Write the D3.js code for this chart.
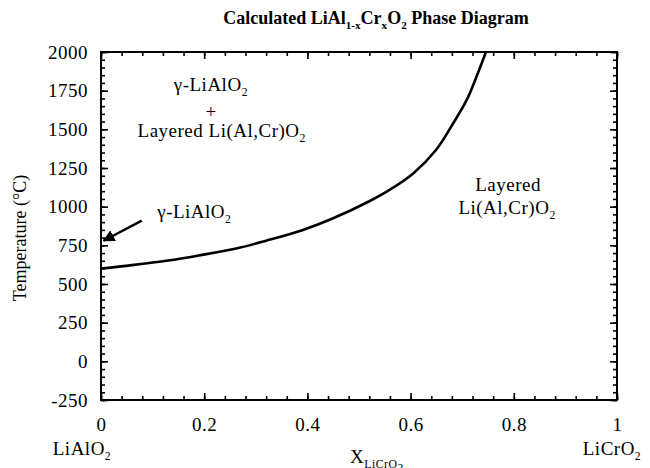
<!DOCTYPE html>
<html>
<head>
<meta charset="utf-8">
<script src="https://cdn.jsdelivr.net/npm/d3@7"></script>
<style>
  body { margin: 0; background: #fff; }
  svg { display: block; }
  text { font-family: "Liberation Serif", "Times New Roman", serif; fill: #000; }
</style>
</head>
<body>
<div id="chart-area"></div>
<script>
// phase boundary
const boundaryX = [0, 0.06, 0.13, 0.19, 0.26, 0.32, 0.39, 0.45, 0.52, 0.56, 0.605, 0.65, 0.68, 0.709, 0.728, 0.746];
const boundaryT = [600, 622, 652, 685, 728, 780, 848, 925, 1035, 1110, 1215, 1370, 1525, 1692, 1843, 2000];

const xTickValues = [0, 0.2, 0.4, 0.6, 0.8, 1];
const xTickLabels = ["0", "0.2", "0.4", "0.6", "0.8", "1"];
const tTickValues = [-250, 0, 250, 500, 750, 1000, 1250, 1500, 1750, 2000];
const tTickLabels = ["-250", "0", "250", "500", "750", "1000", "1250", "1500", "1750", "2000"];

const margin = { left: 101, right: 33, top: 52, bottom: 68 };
const width = 650 - margin.left - margin.right;
const height = 468 - margin.top - margin.bottom;

const svg = d3.select("#chart-area")
    .append("svg")
    .attr("width", 650)
    .attr("height", 468)
    .style("font-family", "'Liberation Serif', 'Times New Roman', serif");

const g = svg.append("g")
    .attr("transform", `translate(${margin.left}, ${margin.top})`);

const x = d3.scaleLinear().domain([0, 1]).range([0, width]);
const y = d3.scaleLinear().domain([-250, 2000]).range([height, 0]);

const xMinor = d3.range(0, 1.0001, 0.04);
const tMinor = d3.range(-250, 2001, 50);

// writes text made of [string, level] pieces, level 1 = subscript, 2 = sub-subscript
function richText(sel, parts, size) {
    let level = 0;
    parts.forEach(([s, l]) => {
        const shift = [0, 0.25, 0.45];
        const dy = (shift[l] - shift[level]) * size;
        sel.append("tspan")
            .attr("dy", dy)
            .attr("font-size", l === 0 ? size : size * 0.62)
            .text(s);
        level = l;
    });
    return sel;
}

// inward ticks on all four sides
function ticks(axis, vals, len, transform) {
    g.append("g")
        .attr("transform", transform)
        .call(axis.tickValues(vals).tickSize(len).tickFormat(""))
        .call(a => a.select(".domain").remove())
        .selectAll("line").attr("stroke", "#000").attr("stroke-width", 1.6);
}
ticks(d3.axisBottom(x), xMinor, 4, "translate(0,0)");
ticks(d3.axisBottom(x), xTickValues, 7, "translate(0,0)");
ticks(d3.axisTop(x), xMinor, 4, `translate(0,${height})`);
ticks(d3.axisTop(x), xTickValues, 7, `translate(0,${height})`);
ticks(d3.axisRight(y), tMinor, 4, "translate(0,0)");
ticks(d3.axisRight(y), tTickValues, 7, "translate(0,0)");
ticks(d3.axisLeft(y), tMinor, 4, `translate(${width},0)`);
ticks(d3.axisLeft(y), tTickValues, 7, `translate(${width},0)`);

g.append("rect")
    .attr("width", width)
    .attr("height", height)
    .attr("fill", "none")
    .attr("stroke", "#000")
    .attr("stroke-width", 2);

// tick labels
const yAxis = d3.axisLeft(y).tickValues(tTickValues).tickSize(0).tickPadding(13)
    .tickFormat((d, i) => tTickLabels[i]);
g.append("g")
    .call(yAxis)
    .attr("font-family", null)
    .call(a => a.select(".domain").remove())
    .selectAll("text")
    .attr("font-size", "19px")
    .attr("letter-spacing", "0.5px");

const xAxis = d3.axisBottom(x).tickValues(xTickValues).tickSize(0).tickPadding(18)
    .tickFormat((d, i) => xTickLabels[i]);
g.append("g")
    .attr("transform", `translate(0, ${height})`)
    .call(xAxis)
    .attr("font-family", null)
    .call(a => a.select(".domain").remove())
    .selectAll("text")
    .attr("font-size", "19px")
    .attr("letter-spacing", "0.5px");

// boundary curve
const line = d3.line()
    .x((d, i) => x(boundaryX[i]))
    .y(d => y(d))
    .curve(d3.curveCatmullRom.alpha(0.5));

g.append("clipPath").attr("id", "clip")
    .append("rect").attr("width", width).attr("height", height);

g.append("path")
    .datum(boundaryT)
    .attr("clip-path", "url(#clip)")
    .attr("d", line)
    .attr("fill", "none")
    .attr("stroke", "#000")
    .attr("stroke-width", 2.6);

// arrow to the gamma-LiAlO2 field
svg.append("defs").append("marker")
    .attr("id", "head")
    .attr("viewBox", "0 0 10 10")
    .attr("refX", 9).attr("refY", 5)
    .attr("markerWidth", 5).attr("markerHeight", 5)
    .attr("orient", "auto")
    .append("path").attr("d", "M0,0 L10,5 L0,10 z").attr("fill", "#000");

g.append("line")
    .attr("x1", x(0.079)).attr("y1", y(910))
    .attr("x2", x(0.005)).attr("y2", y(780))
    .attr("stroke", "#000")
    .attr("stroke-width", 2.4)
    .attr("marker-end", "url(#head)");

// field labels
const lab = 19;
richText(g.append("text").attr("x", x(0.213)).attr("y", y(1745)).attr("text-anchor", "middle")
    .attr("letter-spacing", "0.5px"), [["γ-LiAlO", 0], ["2", 1]], lab);
g.append("text").attr("x", x(0.213)).attr("y", y(1575)).attr("text-anchor", "middle")
    .attr("font-size", lab).text("+");
richText(g.append("text").attr("x", x(0.234)).attr("y", y(1450)).attr("text-anchor", "middle")
    .attr("letter-spacing", "0.5px"), [["Layered Li(Al,Cr)O", 0], ["2", 1]], lab);
richText(g.append("text").attr("x", x(0.109)).attr("y", y(925))
    .attr("letter-spacing", "0.5px"), [["γ-LiAlO", 0], ["2", 1]], lab);
g.append("text").attr("x", x(0.789)).attr("y", y(1099)).attr("text-anchor", "middle")
    .attr("font-size", lab).attr("letter-spacing", "0.5px").text("Layered");
richText(g.append("text").attr("x", x(0.787)).attr("y", y(950)).attr("text-anchor", "middle")
    .attr("letter-spacing", "0.5px"), [["Li(Al,Cr)O", 0], ["2", 1]], lab);

// end member labels and axis titles
richText(svg.append("text").attr("x", 82).attr("y", 455).attr("text-anchor", "middle")
    .attr("letter-spacing", "0.5px"), [["LiAlO", 0], ["2", 1]], lab);
richText(svg.append("text").attr("x", 612).attr("y", 455).attr("text-anchor", "middle")
    .attr("letter-spacing", "0.5px"), [["LiCrO", 0], ["2", 1]], lab);
richText(svg.append("text").attr("x", 377).attr("y", 463).attr("text-anchor", "middle")
    .attr("letter-spacing", "0.5px"), [["X", 0], ["LiCrO", 1], ["2", 2]], 19);

svg.append("text")
    .attr("x", -238)
    .attr("y", 26)
    .attr("text-anchor", "middle")
    .attr("font-size", "18px")
    .attr("transform", "rotate(-90)")
    .text("Temperature (°C)");

richText(svg.append("text").attr("x", 376).attr("y", 24).attr("text-anchor", "middle")
    .attr("font-weight", "bold"),
    [["Calculated LiAl", 0], ["1-x", 1], ["Cr", 0], ["x", 1], ["O", 0], ["2", 1], [" Phase Diagram", 0]], 18);
</script>
</body>
</html>
